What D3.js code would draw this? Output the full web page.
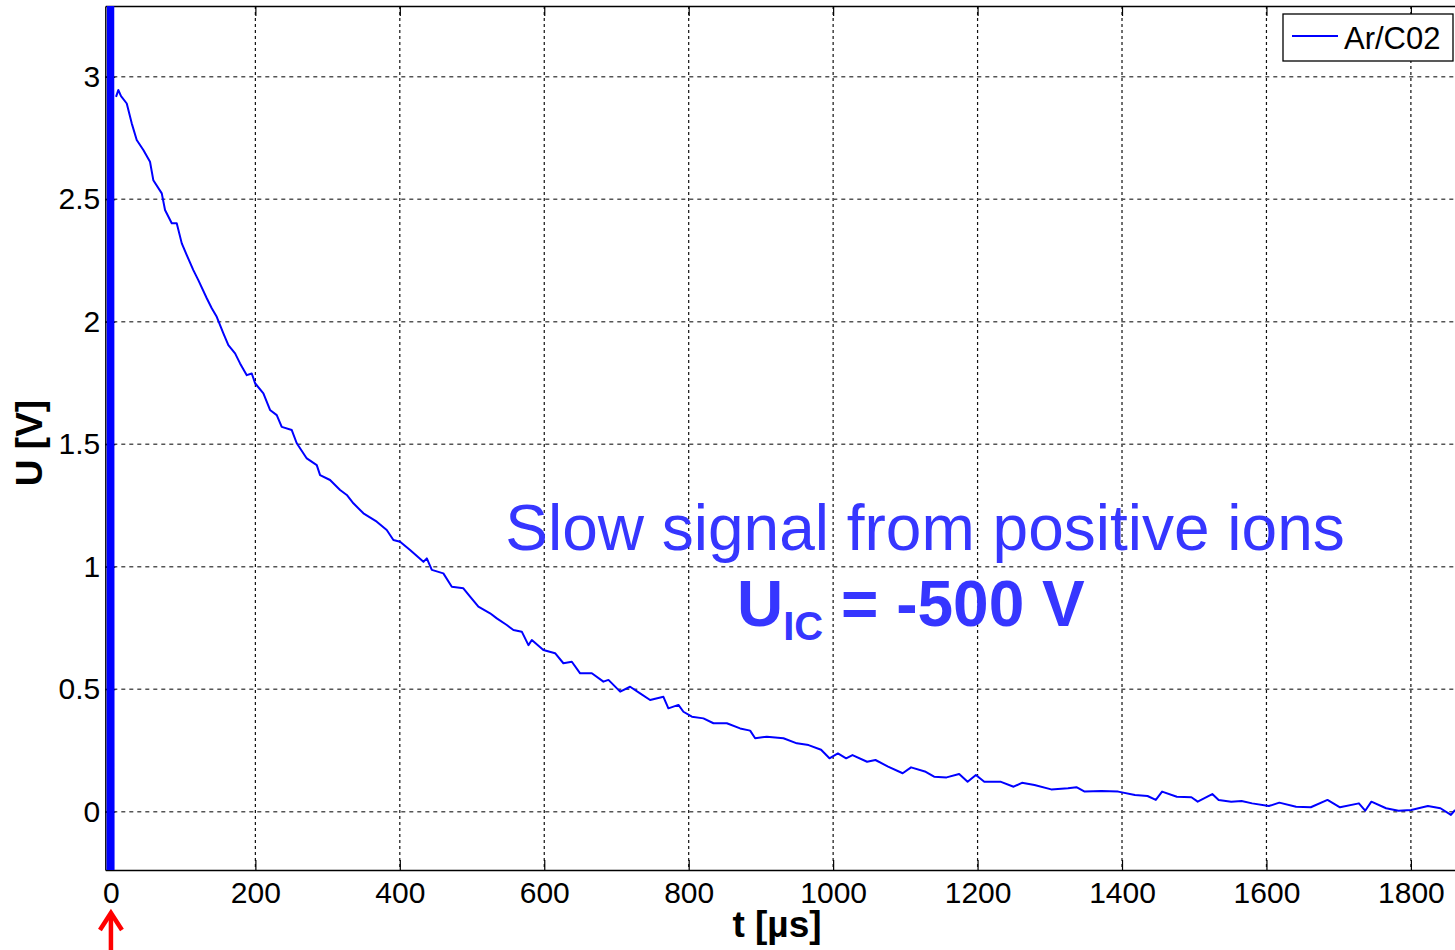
<!DOCTYPE html>
<html>
<head>
<meta charset="utf-8">
<script src="https://cdn.jsdelivr.net/npm/d3@7"></script>
<style>
body { margin: 0; background: #fff; }
text { font-family: "Liberation Sans", Arial, sans-serif; }
</style>
</head>
<body>
<svg id="chart" width="1455" height="950"></svg>
<script>
// slow ion signal
const tMicro = [7.1,10.2,14.0,21.9,28.8,35.7,44.9,54.1,58.7,70.4,
  74.9,84.2,91.1,98.1,105.0,114.1,121.0,132.7,139.6,146.5,
  155.7,162.6,171.9,178.8,188.1,195.0,199.6,211.1,220.3,229.6,
  236.5,250.4,257.3,271.2,285.0,289.6,303.4,317.3,326.6,335.7,
  349.6,368.1,381.9,391.1,400.4,414.2,432.7,437.4,444.3,460.3,
  472.0,488.0,497.3,508.8,525.0,534.3,548.1,557.3,568.9,578.1,
  582.8,598.8,615.0,626.5,638.2,649.7,665.9,681.9,688.9,705.1,
  718.9,732.7,746.6,765.0,771.9,785.8,792.7,804.4,820.4,834.3,
  852.8,871.2,885.1,892.0,908.2,931.2,949.8,966.0,983.3,994.9,
  1006.6,1018.0,1026.8,1047.0,1058.6,1076.1,1096.3,1107.9,1128.2,1139.8,
  1157.1,1174.5,1186.2,1197.7,1209.3,1232.4,1249.9,1261.5,1278.8,1302.0,
  1325.2,1336.9,1348.3,1371.6,1394.7,1417.9,1435.3,1446.8,1455.5,1475.9,
  1496.1,1504.8,1525.0,1533.8,1551.2,1565.6,1580.2,1603.3,1617.8,1641.0,
  1661.4,1684.5,1701.8,1728.0,1736.7,1745.3,1765.6,1782.9,1800.4,1823.5,
  1840.9,1855.4,1861.2];
const uVolt = [2.918,2.946,2.921,2.891,2.810,2.742,2.701,2.653,2.578,2.524,
  2.456,2.402,2.402,2.320,2.272,2.211,2.170,2.096,2.055,2.020,
  1.953,1.905,1.871,1.830,1.782,1.789,1.749,1.708,1.640,1.619,
  1.571,1.558,1.504,1.442,1.415,1.374,1.354,1.313,1.293,1.259,
  1.218,1.184,1.150,1.109,1.102,1.068,1.020,1.034,0.987,0.973,
  0.918,0.912,0.878,0.837,0.810,0.789,0.762,0.742,0.735,0.680,
  0.701,0.660,0.647,0.606,0.612,0.565,0.565,0.531,0.538,0.490,
  0.510,0.483,0.456,0.469,0.422,0.436,0.408,0.388,0.381,0.361,
  0.361,0.340,0.331,0.300,0.306,0.300,0.279,0.272,0.253,0.218,
  0.238,0.218,0.231,0.204,0.211,0.184,0.157,0.181,0.163,0.143,
  0.140,0.154,0.122,0.150,0.122,0.122,0.102,0.118,0.109,0.091,
  0.096,0.100,0.082,0.084,0.082,0.068,0.064,0.048,0.082,0.061,
  0.059,0.041,0.072,0.048,0.041,0.044,0.034,0.023,0.037,0.020,
  0.018,0.048,0.018,0.034,0.004,0.041,0.014,0.004,0.007,0.023,
  0.014,-0.013,0.007];

// fast electron spike at t=0, goes off scale both ways
const spikeT = [-4,-3.5,-3,-2.5,-2,-1.5,-1,-0.5,0,0.5,1,1.5,2,2.5,3];
const spikeU = [-0.4,3.5,-0.4,3.5,-0.4,3.5,-0.4,3.5,-0.4,3.5,-0.4,3.5,-0.4,3.5,-0.4];

const xTicks = [0,200,400,600,800,1000,1200,1400,1600,1800];
const yTicks = [0,0.5,1,1.5,2,2.5,3];
const yTickLabels = ["0","0.5","1","1.5","2","2.5","3"];
const xDomain = [-7.8, 1868];
const yDomain = [-0.238, 3.289];
const seriesName = "Ar/C02";

const plotLeft = 105.3, plotRight = 1460, plotTop = 6, plotBottom = 870;
const blue = "#0000ff", textBlue = "#3636ff";

let svg = d3.select("#chart");

let x = d3.scaleLinear().domain(xDomain).range([plotLeft, plotRight]);
let y = d3.scaleLinear().domain(yDomain).range([plotBottom, plotTop]);

svg.append("defs").append("clipPath").attr("id", "plotclip")
  .append("rect").attr("x", plotLeft).attr("y", plotTop)
  .attr("width", plotRight - plotLeft).attr("height", plotBottom - plotTop);

// grid: vertical dotted black, horizontal dashed grey
let grid = svg.append("g");
grid.selectAll(".vgrid").data(xTicks).enter().append("line")
  .attr("x1", d => x(d)).attr("x2", d => x(d))
  .attr("y1", plotTop).attr("y2", plotBottom)
  .attr("stroke", "#111").attr("stroke-width", 1.2)
  .attr("stroke-dasharray", "3,3");
grid.selectAll(".hgrid").data(yTicks).enter().append("line")
  .attr("x1", plotLeft).attr("x2", plotRight)
  .attr("y1", d => y(d)).attr("y2", d => y(d))
  .attr("stroke", "#555").attr("stroke-width", 1.5)
  .attr("stroke-dasharray", "4,4");

// axes with inward ticks
let xAxis = svg.append("g").attr("transform", `translate(0,${plotBottom})`)
  .call(d3.axisBottom(x).tickValues(xTicks).tickSizeInner(-10).tickSizeOuter(0).tickPadding(12)
    .tickFormat(d3.format("d")));
let xAxisTop = svg.append("g").attr("transform", `translate(0,${plotTop})`)
  .call(d3.axisTop(x).tickValues(xTicks).tickSizeInner(-10).tickSizeOuter(0).tickFormat(""));
let yAxis = svg.append("g").attr("transform", `translate(${plotLeft},0)`)
  .call(d3.axisLeft(y).tickValues(yTicks).tickSizeInner(-10).tickSizeOuter(0).tickPadding(5)
    .tickFormat((d, i) => yTickLabels[i]));

[xAxis, xAxisTop, yAxis].forEach(function(a) {
  a.select(".domain").attr("stroke", "#000").attr("stroke-width", 1.4);
  a.selectAll(".tick line").attr("stroke", "#000").attr("stroke-width", 1.2);
  a.selectAll(".tick text").attr("font-size", 30).attr("fill", "#000")
    .attr("font-family", "'Liberation Sans', Arial, sans-serif");
});

// data
let plot = svg.append("g").attr("clip-path", "url(#plotclip)");
let line = d3.line().x(d => x(d[0])).y(d => y(d[1]));

plot.append("path")
  .datum(spikeT.map((t, i) => [t, spikeU[i]]))
  .attr("d", line).attr("fill", "none")
  .attr("stroke", blue).attr("stroke-width", 3);

plot.append("path")
  .datum(tMicro.map((t, i) => [t, uVolt[i]]))
  .attr("d", line).attr("fill", "none")
  .attr("stroke", blue).attr("stroke-width", 2)
  .attr("stroke-linejoin", "round");

// axis titles
svg.append("text").attr("x", 777).attr("y", 937)
  .attr("text-anchor", "middle").attr("font-size", 37).attr("font-weight", "bold")
  .text("t [µs]");
svg.append("text").attr("transform", "translate(42,443) rotate(-90)")
  .attr("text-anchor", "middle").attr("font-size", 37).attr("font-weight", "bold")
  .text("U [V]");

// legend
let lg = svg.append("g");
lg.append("rect").attr("x", 1283).attr("y", 14).attr("width", 170).attr("height", 47)
  .attr("fill", "#fff").attr("stroke", "#000").attr("stroke-width", 1.3);
lg.append("line").attr("x1", 1292).attr("x2", 1338).attr("y1", 36).attr("y2", 36)
  .attr("stroke", blue).attr("stroke-width", 2);
lg.append("text").attr("x", 1344).attr("y", 49).attr("font-size", 31).text(seriesName);

// annotation
svg.append("text").attr("x", 925).attr("y", 550).attr("text-anchor", "middle")
  .attr("font-size", 64).attr("fill", textBlue)
  .text("Slow signal from positive ions");
let ann = svg.append("text").attr("x", 737).attr("y", 626)
  .attr("font-size", 64).attr("font-weight", "bold").attr("fill", textBlue);
ann.append("tspan").text("U");
ann.append("tspan").attr("font-size", 40).attr("dy", 14).text("IC");
ann.append("tspan").attr("dy", -14).text(" = -500 V");

// red arrow pointing at t = 0
let ax = x(0);
svg.append("line").attr("x1", ax).attr("x2", ax).attr("y1", 950).attr("y2", 914)
  .attr("stroke", "#f00").attr("stroke-width", 4.5);
svg.append("polyline")
  .attr("points", `${ax - 11},930 ${ax},913 ${ax + 11},930`)
  .attr("fill", "none").attr("stroke", "#f00").attr("stroke-width", 4.5);
</script>
</body>
</html>
